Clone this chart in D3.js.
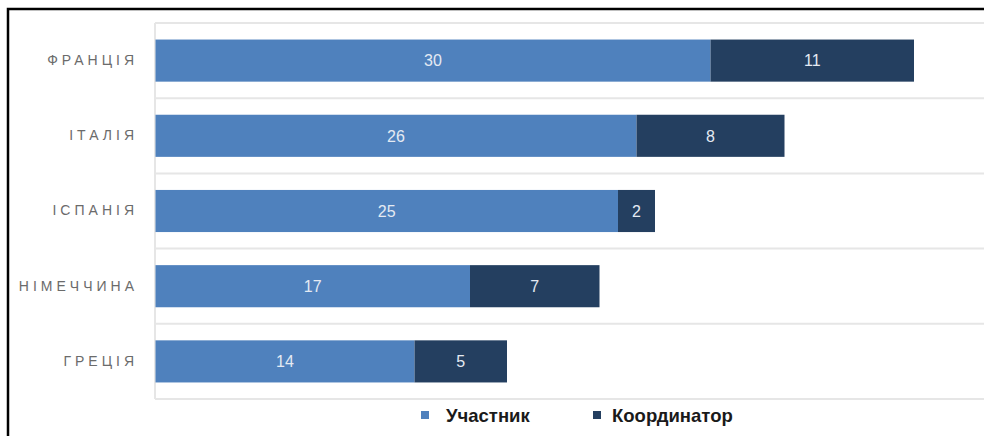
<!DOCTYPE html>
<html><head><meta charset="utf-8">
<script src="https://cdn.jsdelivr.net/npm/d3@7"></script>
<style>
html,body{margin:0;padding:0;background:#fff;}
svg{display:block;}
</style></head>
<body>
<svg id="chart" width="984" height="436"></svg>
<script>
const categories = ["ФРАНЦІЯ", "ІТАЛІЯ", "ІСПАНІЯ", "НІМЕЧЧИНА", "ГРЕЦІЯ"];
const participant = [30, 26, 25, 17, 14];
const coordinator = [11, 8, 2, 7, 5];
const seriesNames = ["Участник", "Координатор"];
const colors = ["#4F81BD", "#243F60"];

const svg = d3.select("#chart");
const W = 984, H = 436;

// frame
svg.append("rect").attr("x", 8).attr("y", 9).attr("width", W + 10).attr("height", H + 10)
  .attr("fill", "none").attr("stroke", "#000").attr("stroke-width", 2.5);

const table = categories.map((c, i) => ({cat: c, "Участник": participant[i], "Координатор": coordinator[i]}));
const stack = d3.stack().keys(seriesNames)(table);

const x = d3.scaleLinear().domain([0, 45]).range([155.5, 988]);
const y = d3.scaleBand().domain(categories).range([23, 399]).paddingInner(0.44).paddingOuter(0.22);
const yb = d3.scaleBand().domain(categories).range([23, 399]);

// band separator lines
const lines = [23].concat(categories.map(c => yb(c) + yb.bandwidth()));
svg.append("g").selectAll("line").data(lines).join("line")
  .attr("x1", 155).attr("x2", W).attr("y1", d => d).attr("y2", d => d)
  .attr("stroke", "#e6e6e6").attr("stroke-width", 2);
svg.append("line").attr("x1", 155).attr("x2", 155).attr("y1", 23).attr("y2", 399)
  .attr("stroke", "#e6e6e6").attr("stroke-width", 2);

// bars
const g = svg.append("g");
stack.forEach((s, si) => {
  g.append("g").selectAll("rect").data(s).join("rect")
    .attr("x", d => x(d[0])).attr("width", d => x(d[1]) - x(d[0]))
    .attr("y", d => y(d.data.cat)).attr("height", y.bandwidth())
    .attr("fill", colors[si]);
  g.append("g").selectAll("text").data(s).join("text")
    .attr("x", d => (x(d[0]) + x(d[1])) / 2)
    .attr("y", d => y(d.data.cat) + y.bandwidth() / 2)
    .attr("dy", "0.36em").attr("text-anchor", "middle")
    .attr("font-family", "Liberation Sans, Arial, sans-serif").attr("font-size", 16)
    .attr("fill", "#e4eaf3")
    .text(d => d[1] - d[0]);
});

// category labels
const yAxis = d3.axisLeft(yb).tickSize(0).tickPadding(17);
const ya = svg.append("g").attr("transform", "translate(155,0)").call(yAxis);
ya.select(".domain").remove();
ya.selectAll("text")
  .attr("font-family", "Liberation Sans, Arial, sans-serif").attr("font-size", 14)
  .attr("letter-spacing", "4px").attr("fill", "#6b6b6b");

// legend
const legendX = [421, 593];
const leg = svg.append("g");
seriesNames.forEach((n, i) => {
  leg.append("rect").attr("x", legendX[i]).attr("y", 411).attr("width", 8).attr("height", 8).attr("fill", colors[i]);
  leg.append("text").attr("x", legendX[i] + (i === 0 ? 25 : 19)).attr("y", 415).attr("dy", "0.36em")
    .attr("font-family", "Liberation Sans, Arial, sans-serif").attr("font-size", 18.5).attr("font-weight", "bold")
    .attr("fill", "#1a1a1a").text(n);
});
</script>
</body></html>
